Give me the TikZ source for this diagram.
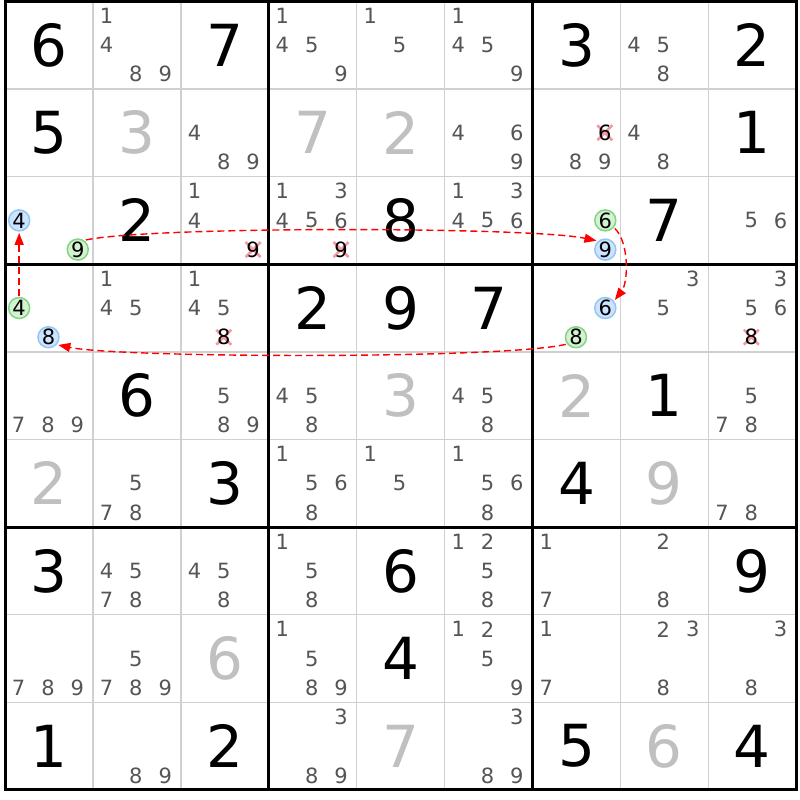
\documentclass[tikz,border=0pt]{standalone}
\usepackage{fontspec}
\setmainfont{DejaVu Sans}
\usetikzlibrary{arrows.meta}
\definecolor{thinc}{HTML}{D0D0D0}
\definecolor{candc}{HTML}{555555}
\definecolor{solvc}{HTML}{C0C0C0}
\definecolor{bluef}{HTML}{CCE4FF}
\definecolor{blued}{HTML}{94C6F4}
\definecolor{greenf}{HTML}{D2F2D2}
\definecolor{greend}{HTML}{84D484}
\definecolor{crossc}{HTML}{F39AA4}
\newcommand\sdGX{5}
\newcommand\sdGY{1.3}
\newcommand\sdCW{87.92}
\newcommand\sdCH{87.63}
\tikzset{
  cand/.style={inner sep=0pt, text=candc, font=\fontsize{21}{22}\selectfont},
  givendig/.style={inner sep=0pt, text=black, font=\fontsize{58}{60}\selectfont},
  solveddig/.style={givendig, text=solvc},
  bluec/.style={cand, text=black, circle, draw=blued, fill=bluef, line width=1.5pt, minimum size=21pt, outer sep=2pt},
  greenc/.style={bluec, draw=greend, fill=greenf},
  crossdig/.style={cand, text=black},
  crossmark/.style={draw=crossc, line width=2.6pt},
  link/.style={draw=red, line width=1.4pt, dash pattern=on 7pt off 4pt, -{Triangle[length=12pt,width=9pt]}},
  thinline/.style={draw=thinc, line width=1.5pt},
  thickline/.style={draw=black, line width=3pt},
}
% given digit
\newcommand\gv[3]{\node[givendig] (g#1#2) at ({\sdGX+\sdCW*(#2-0.5)},{\sdGY+\sdCH*(#1-0.5)}) {#3};}
% solved digit
\newcommand\sv[3]{\node[solveddig] (g#1#2) at ({\sdGX+\sdCW*(#2-0.5)},{\sdGY+\sdCH*(#1-0.5)}) {#3};}
% candidates
\newcommand\cn[3]{\foreach \dd in {#3}{\node[cand] (k#1#2\dd) at ({\sdGX-1+\sdCW*(#2-1)+\sdCW/6*(2*mod(\dd-1,3)+1)},{\sdGY+\sdCH*(#1-1)+\sdCH/6*(2*floor((\dd-1)/3)+1)}) {\dd};}}
% circled candidate
\newcommand\cc[4]{\node[#4] (k#1#2#3) at ({\sdGX-0.5+\sdCW*(#2-1)+\sdCW/6*(2*mod(#3-1,3)+1)},{\sdGY+\sdCH*(#1-1)+\sdCH/6*(2*floor((#3-1)/3)+1)}) {#3};}
% crossed candidate
\newcommand\cx[3]{\path ({\sdGX-1+\sdCW*(#2-1)+\sdCW/6*(2*mod(#3-1,3)+1)},{\sdGY+\sdCH*(#1-1)+\sdCH/6*(2*floor((#3-1)/3)+1)}) coordinate (x#1#2#3);
  \draw[crossmark] (x#1#2#3) ++(-7.5,-7.5) -- ++(15,15) ++(0,-15) -- ++(-15,15);
  \node[crossdig] (k#1#2#3) at (x#1#2#3) {#3};}
\begin{document}
\begin{tikzpicture}[x=1pt,y=-1pt]
\useasboundingbox[fill=white] (0,0) rectangle (800,800);
% grid
\foreach \i in {1,2,4,5,7,8}{
  \draw[thinline] ({\sdGX+\sdCW*\i},{\sdGY}) -- ({\sdGX+\sdCW*\i},{\sdGY+9*\sdCH});
  \draw[thinline] ({\sdGX},{\sdGY+\sdCH*\i}) -- ({\sdGX+9*\sdCW},{\sdGY+\sdCH*\i});
}
\foreach \i in {3,6}{
  \draw[thickline] ({\sdGX+\sdCW*\i},{\sdGY}) -- ({\sdGX+\sdCW*\i},{\sdGY+9*\sdCH});
  \draw[thickline] ({\sdGX},{\sdGY+\sdCH*\i}) -- ({\sdGX+9*\sdCW},{\sdGY+\sdCH*\i});
}
\draw[thickline] ({\sdGX},{\sdGY}) rectangle ({\sdGX+9*\sdCW},{\sdGY+9*\sdCH});
% row 1
\gv{1}{1}{6} \cn{1}{2}{1,4,8,9} \gv{1}{3}{7} \cn{1}{4}{1,4,5,9} \cn{1}{5}{1,5} \cn{1}{6}{1,4,5,9} \gv{1}{7}{3} \cn{1}{8}{4,5,8} \gv{1}{9}{2}
% row 2
\gv{2}{1}{5} \sv{2}{2}{3} \cn{2}{3}{4,8,9} \sv{2}{4}{7} \sv{2}{5}{2} \cn{2}{6}{4,6,9} \cx{2}{7}{6} \cn{2}{7}{8,9} \cn{2}{8}{4,8} \gv{2}{9}{1}
% row 3
\cc{3}{1}{4}{bluec} \cc{3}{1}{9}{greenc} \gv{3}{2}{2} \cn{3}{3}{1,4} \cx{3}{3}{9} \cn{3}{4}{1,3,4,5,6} \cx{3}{4}{9} \gv{3}{5}{8} \cn{3}{6}{1,3,4,5,6} \cc{3}{7}{6}{greenc} \cc{3}{7}{9}{bluec} \gv{3}{8}{7} \cn{3}{9}{5,6}
% row 4
\cc{4}{1}{4}{greenc} \cc{4}{1}{8}{bluec} \cn{4}{2}{1,4,5} \cn{4}{3}{1,4,5} \cx{4}{3}{8} \gv{4}{4}{2} \gv{4}{5}{9} \gv{4}{6}{7} \cc{4}{7}{6}{bluec} \cc{4}{7}{8}{greenc} \cn{4}{8}{3,5} \cn{4}{9}{3,5,6} \cx{4}{9}{8}
% row 5
\cn{5}{1}{7,8,9} \gv{5}{2}{6} \cn{5}{3}{5,8,9} \cn{5}{4}{4,5,8} \sv{5}{5}{3} \cn{5}{6}{4,5,8} \sv{5}{7}{2} \gv{5}{8}{1} \cn{5}{9}{5,7,8}
% row 6
\sv{6}{1}{2} \cn{6}{2}{5,7,8} \gv{6}{3}{3} \cn{6}{4}{1,5,6,8} \cn{6}{5}{1,5} \cn{6}{6}{1,5,6,8} \gv{6}{7}{4} \sv{6}{8}{9} \cn{6}{9}{7,8}
% row 7
\gv{7}{1}{3} \cn{7}{2}{4,5,7,8} \cn{7}{3}{4,5,8} \cn{7}{4}{1,5,8} \gv{7}{5}{6} \cn{7}{6}{1,2,5,8} \cn{7}{7}{1,7} \cn{7}{8}{2,8} \gv{7}{9}{9}
% row 8
\cn{8}{1}{7,8,9} \cn{8}{2}{5,7,8,9} \sv{8}{3}{6} \cn{8}{4}{1,5,8,9} \gv{8}{5}{4} \cn{8}{6}{1,2,5,9} \cn{8}{7}{1,7} \cn{8}{8}{2,3,8} \cn{8}{9}{3,8}
% row 9
\gv{9}{1}{1} \cn{9}{2}{8,9} \gv{9}{3}{2} \cn{9}{4}{3,8,9} \sv{9}{5}{7} \cn{9}{6}{3,8,9} \gv{9}{7}{5} \sv{9}{8}{6} \gv{9}{9}{4}
% links
\draw[link] (k319.50) .. controls +(64,-14) and +(-65,-14) .. (k379.135);
\draw[link] (k376.-40) .. controls +(15,15) and +(13,-17) .. (k476.40);
\draw[link] (k478.-145) .. controls +(-65,15) and +(60,13) .. (k418.-38);
\draw[link] (k414.north) -- (k314.south);
\end{tikzpicture}
\end{document}
